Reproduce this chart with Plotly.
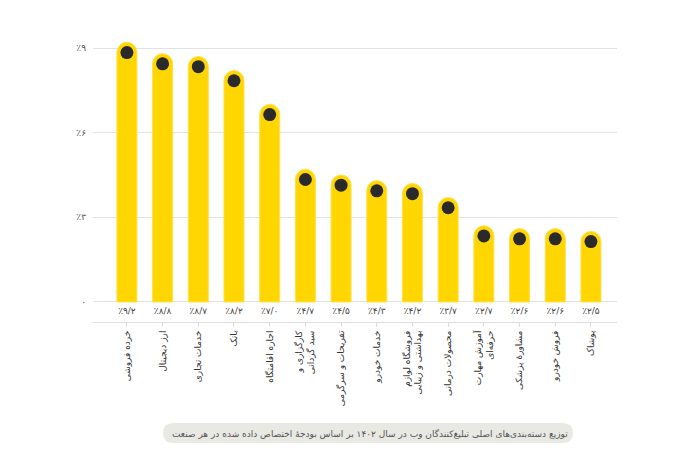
import plotly.graph_objects as go

categories = [
    "خرده فروشی", "ارز دیجیتال", "خدمات تجاری", "بانک", "اجاره اقامتگاه",
    "کارگزاری و<br>سبد گردانی", "تفریحات و سرگرمی", "خدمات خودرو",
    "فروشگاه لوازم<br>بهداشتی و زیبایی", "محصولات درمانی",
    "آموزش مهارت<br>حرفه‌ای", "مشاورهٔ پزشکی", "فروش خودرو", "پوشاک",
]
values = [9.2, 8.8, 8.7, 8.2, 7.0, 4.7, 4.5, 4.3, 4.2, 3.7, 2.7, 2.6, 2.6, 2.5]
y_ticks = [0, 3, 6, 9]
y_ticktext = ["۰", "٪۳", "٪۶", "٪۹"]
caption = ("توزیع دسته‌بندی‌های اصلی تبلیغ‌کنندگان وب در سال ۱۴۰۲ "
           "بر اساس بودجهٔ اختصاص داده شده در هر صنعت")

FA = str.maketrans("0123456789.", "۰۱۲۳۴۵۶۷۸۹/")


def fa_pct(v):
    return "٪" + f"{v:.1f}".translate(FA)


FONT = "DejaVu Sans, sans-serif"
YELLOW = "#FFD600"
W, H = 692, 466
# page body adds an 8px offset, so margins are shifted accordingly
ML, MR, MT, MB = 85, 83, 30, 152
PW, PH = W - ML - MR, H - MT - MB
x = list(range(len(categories)))


def px_x(p):
    return (p - ML) / PW


def px_y(p):
    return (H - MB - p) / PH


fig = go.Figure()
fig.add_trace(go.Bar(
    x=x, y=values, width=0.56,
    marker=dict(color=YELLOW, cornerradius="50%", line=dict(color="#FFE04A", width=1)),
    hoverinfo="skip",
))
# dark dot near the top of each bar
fig.add_trace(go.Scatter(
    x=x, y=[v - 0.36 for v in values], mode="markers",
    marker=dict(color="#2a2a2a", size=13),
    hoverinfo="skip",
))
# value labels row under the zero line
fig.add_trace(go.Scatter(
    x=x, y=[-0.36] * len(values), mode="text",
    text=[fa_pct(v) for v in values],
    textfont=dict(family=FONT, size=9, color="#444"),
    hoverinfo="skip",
))

# rounded caption pill
x0, x1 = px_x(155), px_x(565)
yt, yb, ym = px_y(415), px_y(435), px_y(425)
rx = 10 / PW
fig.add_shape(
    type="path", xref="paper", yref="paper",
    path=(f"M {x0 + rx},{yt} L {x1 - rx},{yt} Q {x1},{yt} {x1},{ym} "
          f"Q {x1},{yb} {x1 - rx},{yb} L {x0 + rx},{yb} Q {x0},{yb} {x0},{ym} "
          f"Q {x0},{yt} {x0 + rx},{yt} Z"),
    fillcolor="#E9E9E4", line=dict(width=0), layer="below",
)
fig.add_annotation(
    xref="paper", yref="paper", x=px_x(362), y=ym, yanchor="middle",
    text=caption, showarrow=False,
    font=dict(family=FONT, size=9, color="#555"),
)

fig.update_layout(
    width=W, height=H,
    margin=dict(l=ML, r=MR, t=MT, b=MB),
    plot_bgcolor="white", paper_bgcolor="white",
    showlegend=False,
    font=dict(family=FONT, color="#444"),
    xaxis=dict(
        tickvals=x, ticktext=categories, tickangle=-90,
        range=[-0.95, len(x) - 0.27],
        showline=True, linecolor="#dddddd", linewidth=1,
        ticks="outside", ticklen=4, tickcolor="#dddddd",
        tickfont=dict(family=FONT, size=9, color="#333"),
        showgrid=False, zeroline=False, automargin=False,
    ),
    yaxis=dict(
        range=[-0.709, 9.355], tickvals=y_ticks, ticktext=y_ticktext,
        gridcolor="#e2e2e2", gridwidth=1, zeroline=False,
        tickfont=dict(family=FONT, size=9, color="#555"),
        ticklabelstandoff=6, automargin=False,
    ),
)

fig.write_html("out.html")
